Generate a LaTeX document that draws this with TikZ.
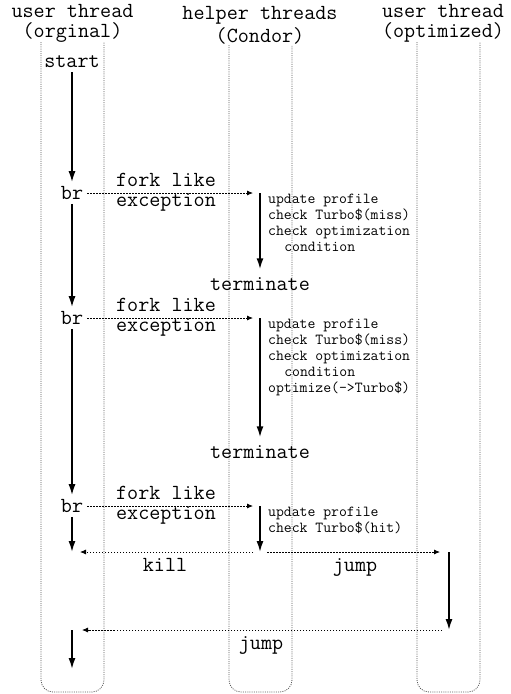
\documentclass[tikz,border=0pt]{standalone}
\usepackage{fontspec}
\usetikzlibrary{arrows.meta}
\begin{document}
\begin{tikzpicture}[x=1pt,y=-1pt,
 lane/.style={draw=black!65, line width=0.8pt, dash pattern=on 1pt off 1.2pt, rounded corners=12pt},
 big/.style={font=\ttfamily\fontsize{21.5}{18}\selectfont, inner sep=0pt, align=center},
 lbl/.style={big, inner sep=4pt},
 small/.style={font=\ttfamily\fontsize{15.3}{16}\selectfont, align=left, inner sep=0pt, anchor=north west},
 flow/.style={line width=1.6pt, -{Latex[length=11pt,width=7pt]}},
 msg/.style={line width=0.8pt, dash pattern=on 1.5pt off 1.5pt, -{Latex[length=6pt,width=5pt]}}]
\useasboundingbox (0,0) rectangle (511,694);

% lanes
\draw[lane] (41,42) -- (41,692) -- (104,692) -- (104,42);
\draw[lane] (229,45) -- (229,692) -- (292,692) -- (292,45);
\draw[lane] (417,42) -- (417,692) -- (480,692) -- (480,42);

% titles
\node[big] (t1) at (72.5,23) {user thread\\[2pt](orginal)};
\node[big] (t2) at (260,25) {helper threads\\[2pt](Condor)};
\node[big] (t3) at (443,23) {user thread\\[2pt](optimized)};

% user thread nodes
\node[lbl] (start) at (72,62) {start};
\node[lbl] (br1) at (72,193) {br};
\node[lbl] (br2) at (72,318) {br};
\node[lbl] (br3) at (72,506) {br};

% helper coordinates
\coordinate (h1) at (260,193);
\coordinate (h2) at (260,318);
\coordinate (h3) at (260,506);
\coordinate (k) at (260,552);
\coordinate (L3) at (72,552);
\coordinate (R1) at (449,552);
\coordinate (R2) at (449,630);
\coordinate (L4) at (72,630);
\coordinate (L5) at (72,669);

\node[lbl] (term1) at (260,284) {terminate};
\node[lbl] (term2) at (260,452) {terminate};

% fork labels
\node[big] (fk1) at (166,192) {fork like\\[2pt]exception};
\node[big] (fk2) at (166,317) {fork like\\[2pt]exception};
\node[big] (fk3) at (166,505) {fork like\\[2pt]exception};

% helper texts
\node[small] (n1) at (268,194) {update profile\\check Turbo\$(miss)\\check optimization\\\hspace*{1.05em}condition};
\node[small] (n2) at (268,319) {update profile\\check Turbo\$(miss)\\check optimization\\\hspace*{1.05em}condition\\optimize(->Turbo\$)};
\node[small] (n3) at (268,507) {update profile\\check Turbo\$(hit)};

% labels
\node[big] (kill) at (165,565) {kill};
\node[big] (jump1) at (355,567) {jump};
\node[big] (jump2) at (261,645) {jump};

% flows
\draw[flow] (start) -- (br1);
\draw[flow] (br1) -- (br2);
\draw[flow] (br2) -- (br3);
\draw[flow] (br3) -- (L3);
\draw[flow, shorten >=4pt] (h1) -- (term1);
\draw[flow, shorten >=4pt] (h2) -- (term2);
\draw[flow] (h3) -- (k);
\draw[flow] (R1) -- (R2);
\draw[flow] (L4) -- (L5);

% messages
\draw[msg, shorten >=7pt] (br1) -- (h1);
\draw[msg, shorten >=7pt] (br2) -- (h2);
\draw[msg, shorten >=7pt] (br3) -- (h3);
\draw[msg, shorten <=7pt, shorten >=8pt] (k) -- (L3);
\draw[msg, shorten <=7pt, shorten >=9pt] (k) -- (R1);
\draw[msg, shorten <=7pt, shorten >=10pt] (R2) -- (L4);
\end{tikzpicture}
\end{document}
